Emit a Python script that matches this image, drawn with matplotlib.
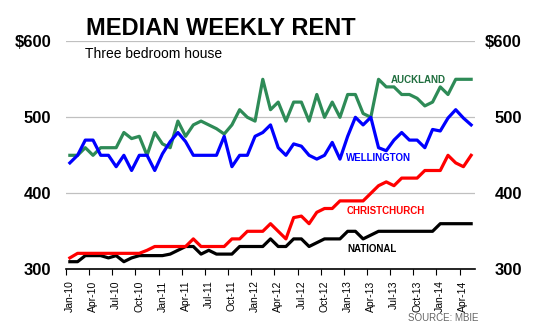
import numpy as np
import matplotlib
matplotlib.use('Agg')
import matplotlib.pyplot as plt

plt.rcParams['font.family'] = ['Liberation Sans', 'DejaVu Sans']

# monthly, Jan-10 .. May-14
months = ['Jan-10', 'Apr-10', 'Jul-10', 'Oct-10', 'Jan-11', 'Apr-11', 'Jul-11', 'Oct-11',
          'Jan-12', 'Apr-12', 'Jul-12', 'Oct-12', 'Jan-13', 'Apr-13', 'Jul-13', 'Oct-13',
          'Jan-14', 'Apr-14']

auckland = [450, 450, 460, 450, 460, 460, 460, 480, 472, 475, 450, 480, 465, 460, 495, 475,
            490, 495, 490, 485, 478, 490, 510, 500, 495, 550, 510, 520, 495, 520, 520, 495,
            530, 500, 520, 500, 530, 530, 505, 500, 550, 540, 540, 530, 530, 525, 515, 520,
            540, 530, 550, 550, 550]
wellington = [440, 450, 470, 470, 450, 450, 435, 450, 430, 450, 450, 430, 452, 468, 480, 468,
              450, 450, 450, 450, 475, 435, 450, 450, 475, 480, 490, 460, 450, 465, 462, 450,
              445, 450, 467, 445, 475, 500, 490, 500, 460, 456, 470, 480, 470, 470, 460, 484,
              482, 499, 510, 499, 490]
christchurch = [315, 321, 321, 321, 321, 321, 321, 321, 321, 321, 325, 330, 330, 330, 330, 330,
                340, 330, 330, 330, 330, 340, 340, 350, 350, 350, 360, 350, 340, 368, 370, 360,
                375, 380, 380, 390, 390, 390, 390, 400, 410, 415, 410, 420, 420, 420, 430, 430,
                430, 450, 440, 435, 450]
national = [310, 310, 318, 318, 318, 315, 318, 310, 315, 318, 318, 318, 318, 320, 325, 330,
            330, 320, 325, 320, 320, 320, 330, 330, 330, 330, 340, 330, 330, 340, 340, 330,
            335, 340, 340, 340, 350, 350, 340, 345, 350, 350, 350, 350, 350, 350, 350, 350,
            360, 360, 360, 360, 360]

x = np.arange(len(auckland))

fig = plt.figure(figsize=(5.5, 3.25), dpi=100)
ax = fig.add_axes([66/550, 1-269.3/325, 409/550, 228/325])

ax.plot(x, auckland, color='#2e8b57', lw=2.3, zorder=3)
ax.plot(x, wellington, color='#0000ff', lw=2.3, zorder=4)
ax.plot(x, national, color='black', lw=2.3, zorder=5)
ax.plot(x, christchurch, color='#ff0000', lw=2.3, zorder=6)

ax.set_xlim(-0.5, len(x) - 0.5)
ax.set_ylim(300, 600)

# ticks between categories, labels on every 3rd month
ax.set_xticks(np.arange(-0.5, 51, 3))
ax.set_xticklabels([])
ax.set_xticks(np.arange(0, 52, 3), minor=True)
ax.set_xticklabels(months, minor=True, rotation=90, fontsize=7.5)
ax.tick_params(axis='x', which='major', length=4, width=0.8, color='black', direction='out')
ax.tick_params(axis='x', which='minor', length=0, pad=8)

yt = [300, 400, 500, 600]
ylabs = ['300', '400', '500', '$600']
ax.set_yticks(yt)
ax.set_yticklabels(ylabs, fontsize=12, fontweight='bold')
ax.tick_params(axis='y', length=0, pad=10.8)
ax.grid(axis='y', color='#c0c0c0', lw=0.9)
ax.set_axisbelow(True)

ax2 = ax.twinx()
ax2.set_ylim(300, 600)
ax2.set_yticks(yt)
ax2.set_yticklabels(ylabs, fontsize=12, fontweight='bold')
ax2.tick_params(axis='y', length=0, pad=33.8)
for t in ax2.get_yticklabels():
    t.set_horizontalalignment('right')

for a in (ax, ax2):
    for s in ('top', 'left', 'right'):
        a.spines[s].set_visible(False)
ax2.spines['bottom'].set_visible(False)
ax.spines['bottom'].set_linewidth(1.2)

# series labels
ax.text(41.6, 549, 'AUCKLAND', color='#1f6e3e', fontsize=7, fontweight='bold', va='center')
ax.text(35.8, 446, 'WELLINGTON', color='#0000ff', fontsize=7, fontweight='bold', va='center')
ax.text(35.8, 377, 'CHRISTCHURCH', color='#ff0000', fontsize=7, fontweight='bold', va='center')
ax.text(35.9, 327, 'NATIONAL', color='black', fontsize=7, fontweight='bold', va='center')

fig.text(86/550, 1-35/325, 'MEDIAN WEEKLY RENT', fontsize=17, fontweight='bold',
         family=['Liberation Sans Narrow', 'Liberation Sans', 'DejaVu Sans'], va='baseline')
fig.text(85/550, 1-58/325, 'Three bedroom house', fontsize=10, va='baseline')
fig.text(479/550, 1-318/325, 'SOURCE: MBIE', fontsize=7, color='#666666', ha='right', va='center')

fig.savefig('out.png', dpi=100)
